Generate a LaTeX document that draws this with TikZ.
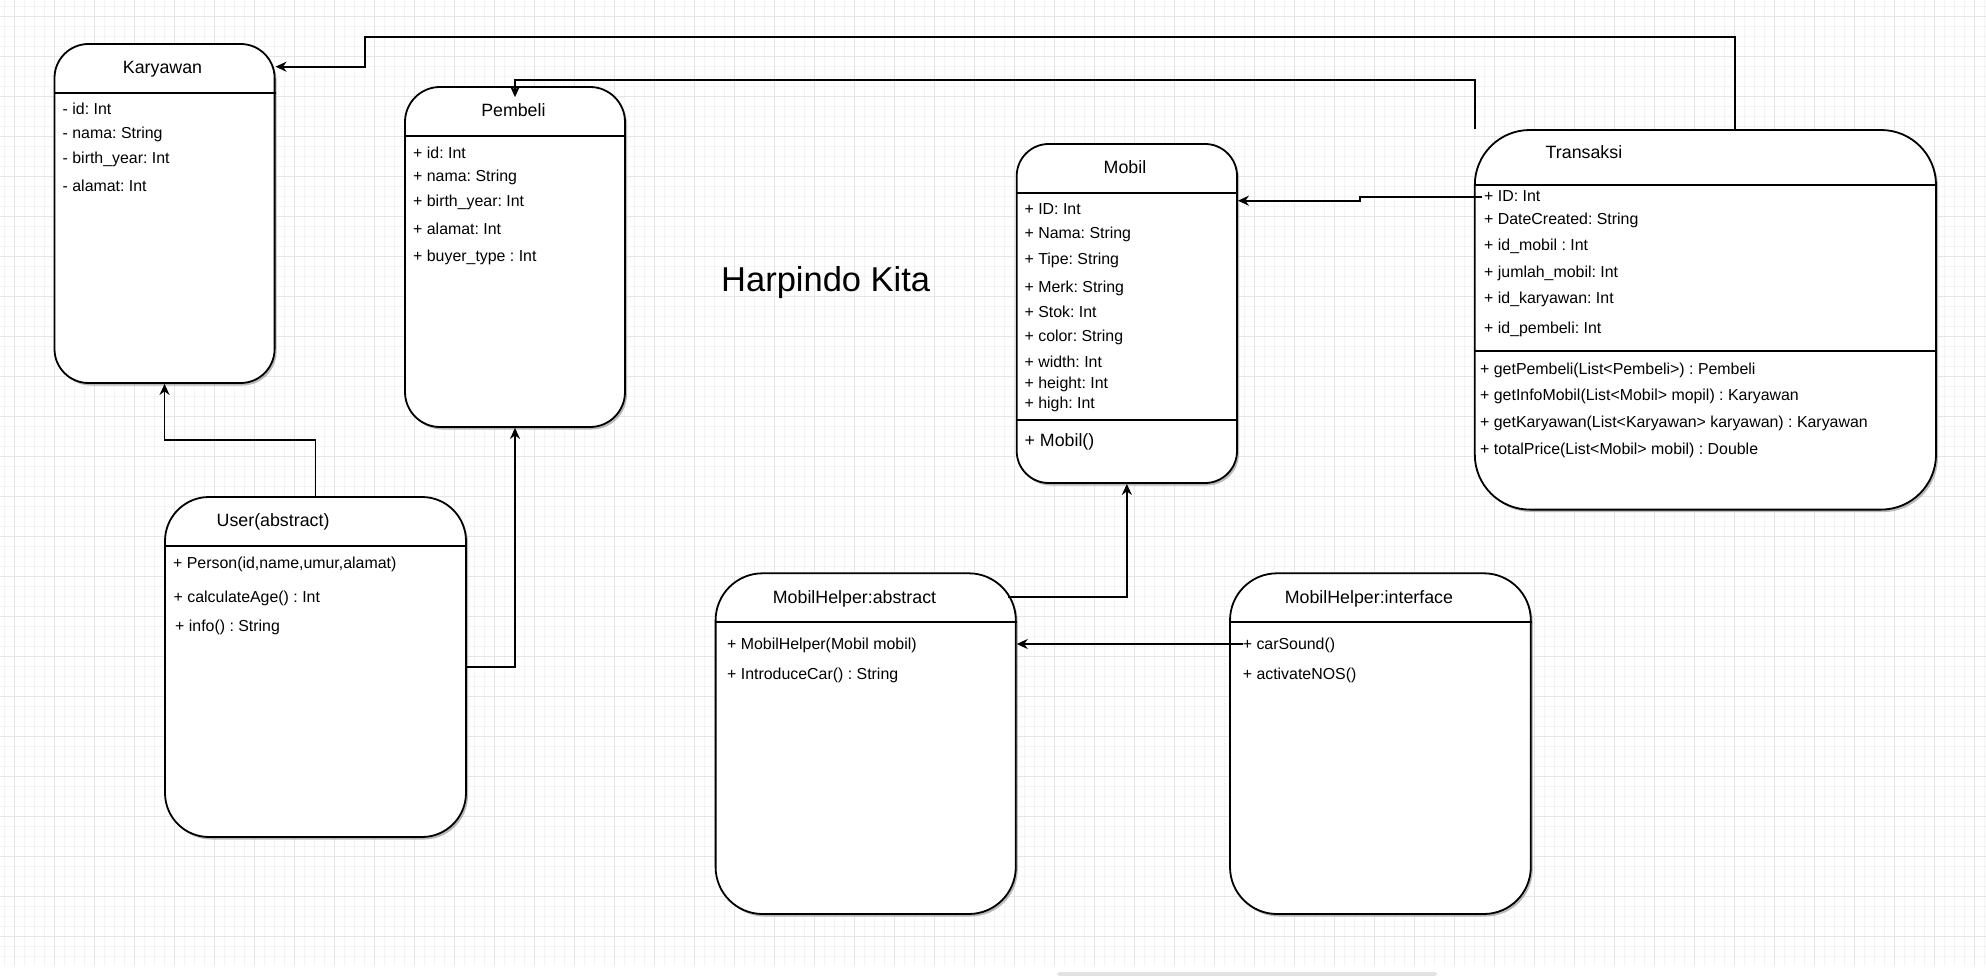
\documentclass[tikz,border=0pt]{standalone}
\usepackage{fontspec}
\setmainfont{Liberation Sans}
\usetikzlibrary{arrows.meta,shadows,calc}
\definecolor{gridmajor}{HTML}{E6E6E6}
\definecolor{gridminor}{HTML}{F4F4F4}
\definecolor{scrollbar}{HTML}{E2E2E2}
\frenchspacing
\tikzset{
  umlbox/.style={draw=black, line width=1.8pt, fill=white, inner sep=0pt,
    drop shadow={shadow xshift=2pt, shadow yshift=-2.5pt, fill=black!45, opacity=0.6}},
  sepline/.style={draw=black, line width=1.8pt},
  conn/.style={draw=black, line width=1.8pt, -{Stealth[length=11pt,width=10pt,inset=3.5pt]}},
  attr/.style={anchor=base west, inner sep=0pt, font=\fontsize{15.9}{18}\selectfont\frenchspacing},
  ttl/.style={anchor=base, inner sep=0pt, font=\fontsize{17.8}{20}\selectfont\frenchspacing},
  ttlw/.style={anchor=base west, inner sep=0pt, font=\fontsize{17.8}{20}\selectfont\frenchspacing},
  minorg/.style={draw=gridminor, line width=0.8pt},
  majorg/.style={draw=gridmajor, line width=1.4pt}
}
\begin{document}
\begin{tikzpicture}[x=1pt,y=-1pt]
\useasboundingbox (0,0) rectangle (1986,976);
\fill[white] (0,0) rectangle (1986,976);
% grid
\foreach \k in {0,...,198} \draw[minorg] ({4.3+10*\k},0) -- ({4.3+10*\k},966);
\foreach \k in {0,...,95} \draw[minorg] (0,{6.7+10*\k}) -- (1986,{6.7+10*\k});
\foreach \k in {0,...,49} \draw[majorg] ({14.3+40*\k},0) -- ({14.3+40*\k},966);
\foreach \k in {0,...,23} \draw[majorg] (0,{16.7+40*\k}) -- (1986,{16.7+40*\k});
\fill[scrollbar, rounded corners=2.5pt] (1057,972) rectangle (1437,976);

% boxes
\node[umlbox, rounded corners=34pt, minimum width=220.1pt, minimum height=339pt] (karyawan) at (164.55,213.5) {};
\node[umlbox, rounded corners=35pt, minimum width=220pt, minimum height=340pt] (pembeli) at (515,257) {};
\node[umlbox, rounded corners=44pt, minimum width=301pt, minimum height=340pt] (user) at (315.5,667) {};
\node[umlbox, rounded corners=32pt, minimum width=220.3pt, minimum height=339pt] (mobil) at (1126.85,313.5) {};
\node[umlbox, rounded corners=55pt, minimum width=461.2pt, minimum height=379.6pt] (transaksi) at (1705.4,319.8) {};
\node[umlbox, rounded corners=47pt, minimum width=300.2pt, minimum height=340.7pt] (mhabs) at (865.7,743.65) {};
\node[umlbox, rounded corners=47pt, minimum width=300.8pt, minimum height=340.7pt] (mhint) at (1380.4,743.65) {};

% separators
\draw[sepline] (karyawan.west |- 0,93) -- (karyawan.east |- 0,93);
\draw[sepline] (pembeli.west |- 0,136) -- (pembeli.east |- 0,136);
\draw[sepline] (user.west |- 0,546) -- (user.east |- 0,546);
\draw[sepline] (mobil.west |- 0,193) -- (mobil.east |- 0,193);
\draw[sepline] (mobil.west |- 0,420) -- (mobil.east |- 0,420);
\draw[sepline] (transaksi.west |- 0,185) -- (transaksi.east |- 0,185);
\draw[sepline] (transaksi.west |- 0,351) -- (transaksi.east |- 0,351);
\draw[sepline] (mhabs.west |- 0,622.3) -- (mhabs.east |- 0,622.3);
\draw[sepline] (mhint.west |- 0,622.3) -- (mhint.east |- 0,622.3);

% Karyawan
\node[ttl] (kt) at (162.5,73.3) {Karyawan};
\node[attr] (k1) at (62.5,114.8) {- id: Int};
\node[attr] (k2) at (62.5,138.8) {- nama: String};
\node[attr] (k3) at (62.5,163.8) {- birth\_year: Int};
\node[attr] (k4) at (62.5,191.8) {- alamat: Int};

% Pembeli
\node[ttl] (pt) at (513.4,116.3) {Pembeli};
\node[attr] (p1) at (413,158.8) {+ id: Int};
\node[attr] (p2) at (413,181.8) {+ nama: String};
\node[attr] (p3) at (413,206.8) {+ birth\_year: Int};
\node[attr] (p4) at (413,234.8) {+ alamat: Int};
\node[attr] (p5) at (413,261.8) {+ buyer\_type : Int};

% User
\node[ttlw] (ut) at (216.5,526.3) {User(abstract)};
\node[attr] (u1) at (173,568.8) {+ Person(id,name,umur,alamat)};
\node[attr] (u2) at (173.5,602.8) {+ calculateAge() : Int};
\node[attr] (u3) at (175,631.8) {+ info() : String};

% Mobil
\node[ttl] (mt) at (1125,173.3) {Mobil};
\node[attr] (m1) at (1024.4,214.8) {+ ID: Int};
\node[attr] (m2) at (1024.4,238.8) {+ Nama: String};
\node[attr] (m3) at (1024.4,264.8) {+ Tipe: String};
\node[attr] (m4) at (1024.4,292.8) {+ Merk: String};
\node[attr] (m5) at (1024.4,317.8) {+ Stok: Int};
\node[attr] (m6) at (1024.4,341.8) {+ color: String};
\node[attr] (m7) at (1024.4,367.8) {+ width: Int};
\node[attr] (m8) at (1024.4,388.8) {+ height: Int};
\node[attr] (m9) at (1024.4,408.8) {+ high: Int};
\node[ttlw] (m10) at (1024.4,446.5) {+ Mobil()};

% Transaksi
\node[ttlw] (tt) at (1545.5,158.8) {Transaksi};
\node[attr] (t1) at (1484,201.4) {+ ID: Int};
\node[attr] (t2) at (1484,224.5) {+ DateCreated: String};
\node[attr] (t3) at (1484,250.3) {+ id\_mobil : Int};
\node[attr] (t4) at (1484,277.8) {+ jumlah\_mobil: Int};
\node[attr] (t5) at (1484,303.8) {+ id\_karyawan: Int};
\node[attr] (t6) at (1484,333.8) {+ id\_pembeli: Int};
\node[attr] (t7) at (1480,374.3) {+ getPembeli(List<Pembeli>) : Pembeli};
\node[attr] (t8) at (1480,400.1) {+ getInfoMobil(List<Mobil> mopil) : Karyawan};
\node[attr] (t9) at (1480,427.6) {+ getKaryawan(List<Karyawan> karyawan) : Karyawan};
\node[attr] (t10) at (1480,454.1) {+ totalPrice(List<Mobil> mobil) : Double};

% MobilHelper:abstract
\node[ttl] (at) at (854.5,603.6) {MobilHelper:abstract};
\node[attr] (a1) at (727,649.1) {+ MobilHelper(Mobil mobil)};
\node[attr] (a2) at (727,679.1) {+ IntroduceCar() : String};

% MobilHelper:interface
\node[ttl] (it) at (1368.9,603.6) {MobilHelper:interface};
\node[attr] (i1) at (1242.6,649.1) {+ carSound()};
\node[attr] (i2) at (1242.6,679.1) {+ activateNOS()};

% title
\node[anchor=base west, inner sep=0pt, font=\fontsize{34.5}{40}\selectfont] (title) at (721,291.5) {Harpindo Kita};

% connectors
\coordinate (tk) at (1735,130);
\coordinate (tp) at (1474.8,129.5);
\coordinate (tm) at (1482,197);
\coordinate (ma) at (1008.4,596.7);
\coordinate (mi) at (1242.6,644);

\draw[conn] (tk) |- (364.7,36.8) |- (karyawan.east |- 0,66.7);
\draw[conn] (tp) |- (pembeli.north |- 0,80) -- ($(pembeli.north)+(0,11)$);
\draw[conn] (tm) -| (1359.6,200.7) -- (mobil.east |- 0,200.7);
\draw[conn] (ma) -| (mobil.south);
\draw[conn] (mi) -- (mhabs.east |- mi);
\draw[conn] (user.north) |- (karyawan.south |- 0,440) -- (karyawan.south);
\draw[conn] (user.east) -| (pembeli.south);
\end{tikzpicture}
\end{document}
